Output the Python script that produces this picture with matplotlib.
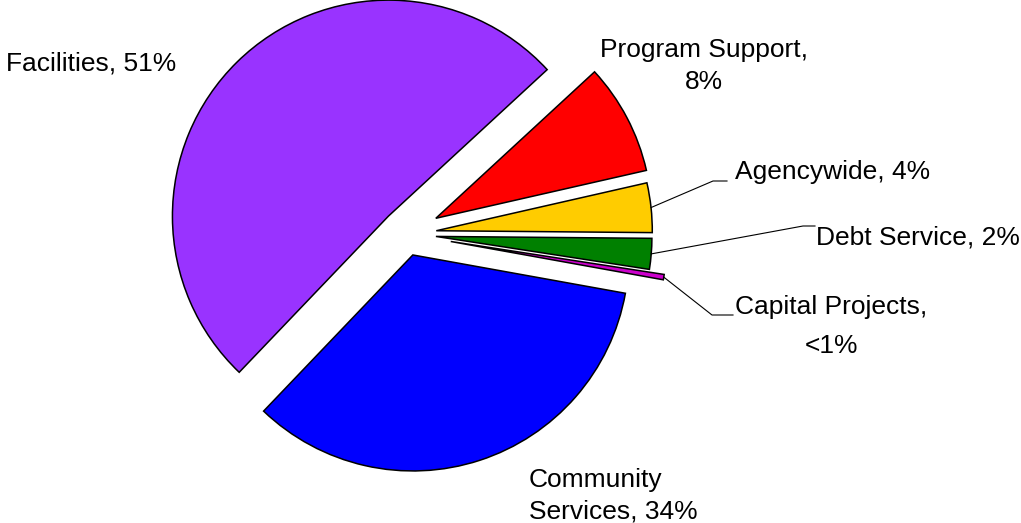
import matplotlib
matplotlib.use("Agg")
import matplotlib.pyplot as plt
import numpy as np

plt.rcParams['font.family'] = ['Liberation Sans', 'DejaVu Sans']

# spending share by category, counter-clockwise from 3 o'clock
categories = ['Agencywide', 'Program Support', 'Facilities',
              'Community Services', 'Capital Projects', 'Debt Service']
shares = [3.7, 8.3, 51.0, 34.3, 0.4, 2.3]
slice_labels = ['Agencywide, 4%', 'Program Support,\n8%', 'Facilities, 51%',
                'Community\nServices, 34%', 'Capital Projects,\n<1%',
                'Debt Service, 2%']
colors = ['#FFCC00', '#FF0000', '#9933FF', '#0000FF', '#CC00CC', '#008000']
explode = [0.141, 0.156, 0.116, 0.102, 0.21, 0.139]

W, H = 1021, 523
CX, CY, R = 406, 234, 216   # pie centre / radius in pixels


def px(x, y):
    # pixel position (y down) -> data units of the unit pie
    return (x - CX) / R, (CY - y) / R


# label placement: x, top y, horizontal / multi-line alignment, line spacing
label_pos = {
    'Agencywide': (735, 160, 'left', 'left', 1.2),
    'Program Support': (704, 38, 'center', 'center', 1.42),
    'Facilities': (6, 52, 'left', 'left', 1.2),
    'Community Services': (529, 468, 'left', 'left', 1.42),
    'Capital Projects': (735, 295, 'left', 'center', 1.8),
    'Debt Service': (816, 226, 'left', 'left', 1.2),
}
# leader lines: elbow and end next to the text
leaders = {
    'Agencywide': [(713, 181), (727, 181)],
    'Debt Service': [(803, 226), (815, 226)],
    'Capital Projects': [(712, 315), (733, 315)],
}

fig = plt.figure(figsize=(W / 100, H / 100), dpi=100)
ax = fig.add_axes([0, 0, 1, 1])
wedges, _ = ax.pie(shares, explode=explode, colors=colors, startangle=-0.5,
                   radius=1, counterclock=True,
                   wedgeprops=dict(edgecolor='black', linewidth=1.1))
ax.set_xlim(px(0, 0)[0], px(W, 0)[0])
ax.set_ylim(px(0, H)[1], px(0, 0)[1])
ax.set_aspect('equal')
ax.axis('off')

for w, name, text in zip(wedges, categories, slice_labels):
    x, y, ha, ma, ls = label_pos[name]
    ax.text(*px(x, y), text, ha=ha, va='top', multialignment=ma,
            fontsize=19, linespacing=ls, color='black')
    if name in leaders:
        mid = np.deg2rad((w.theta1 + w.theta2) / 2)
        x0 = w.center[0] + w.r * np.cos(mid)
        y0 = w.center[1] + w.r * np.sin(mid)
        pts = [px(*p) for p in leaders[name]]
        xs = [x0] + [p[0] for p in pts]
        ys = [y0] + [p[1] for p in pts]
        ax.plot(xs, ys, color='black', linewidth=0.8)

fig.savefig('out.png', dpi=100, facecolor='white')
